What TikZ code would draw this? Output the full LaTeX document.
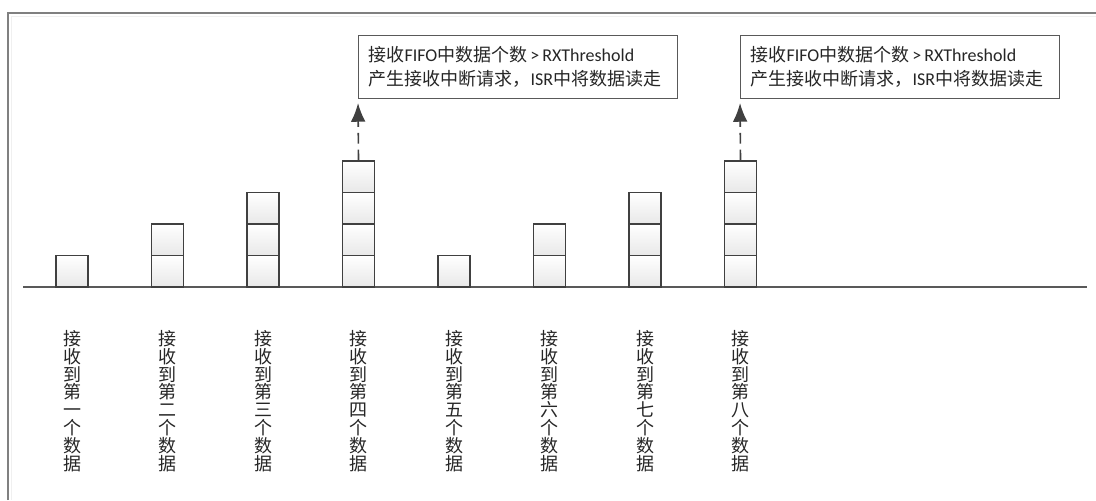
\documentclass[tikz,border=0pt]{standalone}
\usepackage{fontspec}
\setmainfont{Carlito}
\newfontfamily\cjk{Noto Sans CJK SC}
\usetikzlibrary{arrows.meta}
\definecolor{lineg}{HTML}{595959}
\definecolor{cellb}{HTML}{404040}
\definecolor{framec}{HTML}{808080}
\definecolor{txt}{HTML}{262626}
\begin{document}
\begin{tikzpicture}[x=0.75pt,y=-0.75pt,
  cell/.style={draw=cellb, line width=1.1pt, minimum width=24pt, minimum height=23.6pt,
    inner sep=0pt, top color=white, bottom color=black!9},
  vlabel/.style={font=\cjk\fontsize{13.5}{13.35}\selectfont, align=center, inner sep=0pt, text=txt},
  note/.style={draw=lineg, line width=0.8pt, fill=white, anchor=north west, align=left,
    text width=224.25pt, inner xsep=7.5pt, inner ysep=0pt, minimum height=47.25pt,
    text=txt, font=\fontsize{13.5}{18}\selectfont},
  trig/.style={draw=cellb, line width=1.2pt, dash pattern=on 8pt off 4.5pt,
    -{Latex[length=14pt,width=11pt]}, shorten >=3pt}
]
\useasboundingbox (0,0) rectangle (1096,500);
% frame
\draw[black!6, line width=1pt] (11.5,500) -- (11.5,16.5) -- (1096,16.5);
\draw[framec, line width=1.1pt] (8,500) -- (8,13) -- (1096,13);
% baseline
\coordinate (b0) at (23,287);
\coordinate (b1) at (1087,287);
\draw[lineg, line width=1.5pt] (b0) -- (b1);
% stacks
\foreach \i/\n/\o in {1/1/一,2/2/二,3/3/三,4/4/四,5/1/五,6/2/六,7/3/七,8/4/八}{
  \pgfmathsetmacro{\xx}{72+95.5*(\i-1)}
  \foreach \j in {1,...,\n}{
    \node[cell] (c\i-\j) at (\xx, 287-15.75-31.5*\j+31.5) {};
  }
  \node[vlabel] (l\i) at (\xx, 401) {接\\收\\到\\第\\\o\\个\\数\\据};
}
% notes
\node[note] (n1) at (358,35) {{\cjk 接收}FIFO{\cjk 中数据个数}\,>\,RXThreshold\\{\cjk 产生接收中断请求，}ISR{\cjk 中将数据读走}};
\node[note] (n2) at (740,35) {{\cjk 接收}FIFO{\cjk 中数据个数}\,>\,RXThreshold\\{\cjk 产生接收中断请求，}ISR{\cjk 中将数据读走}};
\draw[trig] (c4-4.north) -- (n1.south west);
\draw[trig] (c8-4.north) -- (n2.south west);
\end{tikzpicture}
\end{document}
